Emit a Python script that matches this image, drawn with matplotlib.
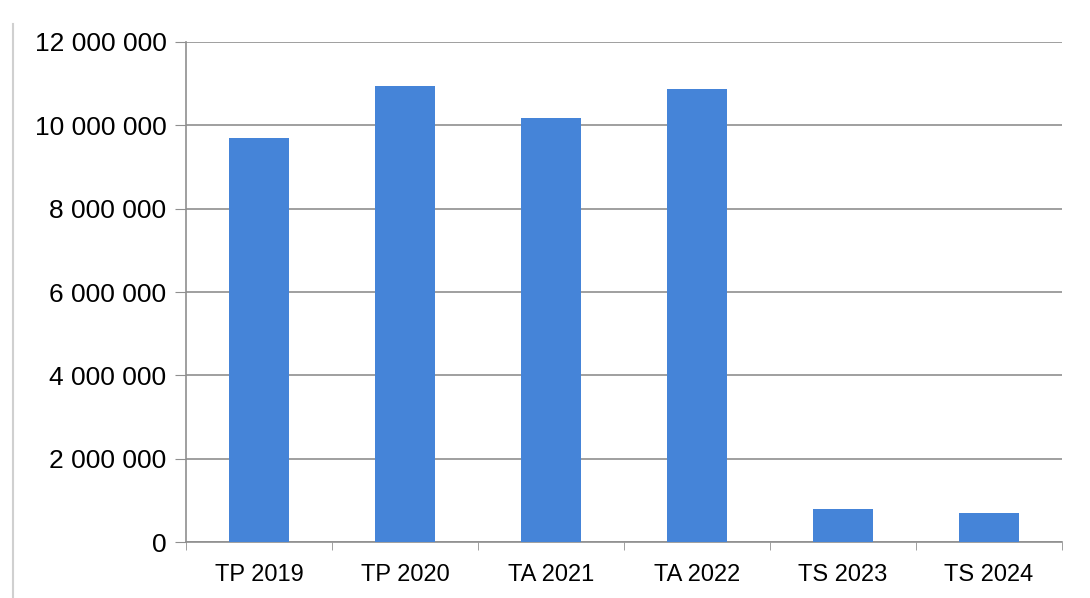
import matplotlib.pyplot as plt
import matplotlib.ticker as mticker
import numpy as np

plt.rcParams['font.family'] = ['Liberation Sans', 'DejaVu Sans']

categories = ['TP 2019', 'TP 2020', 'TA 2021', 'TA 2022', 'TS 2023', 'TS 2024']
values = [9700000, 10940000, 10180000, 10870000, 790000, 700000]
yticks = [0, 2000000, 4000000, 6000000, 8000000, 10000000, 12000000]

fig = plt.figure(figsize=(10.9, 5.98), dpi=100)
ax = fig.add_axes([0.1706, 0.0936, 0.8034, 0.8362])

x = np.arange(len(categories))
ax.bar(x, values, width=0.41, color='#4584d8', zorder=3)

ax.set_xlim(-0.5, len(categories) - 0.5)
ax.set_ylim(0, 12000000)
ax.set_yticks(yticks)
ax.yaxis.set_major_formatter(mticker.FuncFormatter(lambda v, p: f'{int(v):,}'.replace(',', ' ')))
ax.grid(axis='y', color='#8f8f8f', linewidth=1.2, zorder=0)

# category labels centred, ticks between categories
ax.set_xticks(x)
ax.set_xticklabels(categories)
ax.set_xticks(np.arange(len(categories) + 1) - 0.5, minor=True)
ax.tick_params(axis='x', which='major', length=0, labelsize=17, pad=16)
ax.tick_params(axis='x', which='minor', length=6, color='#8f8f8f', direction='out')
ax.tick_params(axis='y', length=8, color='#8f8f8f', labelsize=19, pad=6)

for s in ['top', 'right']:
    ax.spines[s].set_visible(False)
ax.spines['left'].set_color('#8f8f8f')
ax.spines['bottom'].set_color('#8f8f8f')
ax.spines['left'].set_linewidth(1.2)
ax.spines['bottom'].set_linewidth(1.2)

# faint frame of the scanned chart
fig.add_artist(plt.Line2D([0.012, 0.012], [0.0, 0.96], color='#d0d0d0', linewidth=1.5))

fig.savefig('out.png', dpi=100)
